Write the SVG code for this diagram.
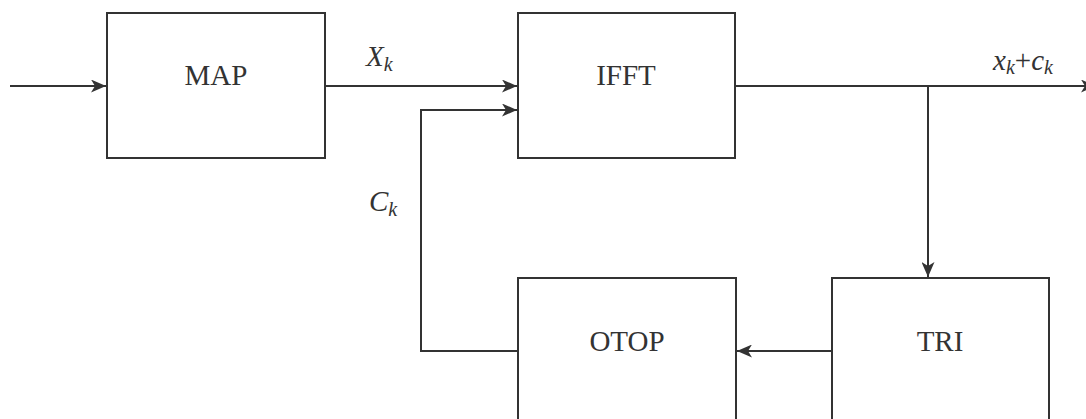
<svg xmlns="http://www.w3.org/2000/svg" width="1086" height="419" viewBox="0 0 1086 419">
<style>
.box{fill:#fff;stroke:#333;stroke-width:2}
.ln{fill:none;stroke:#333;stroke-width:2}
.t{font-family:"Liberation Serif","Times New Roman",serif;font-size:29px;fill:#333;text-anchor:middle}
.i{font-family:"Liberation Serif","Times New Roman",serif;font-style:italic;font-size:29px;fill:#333}
.s{font-size:20px}
</style>
<defs>
<marker id="ah" viewBox="0 0 15 13" refX="15" refY="6.5" markerWidth="15" markerHeight="13" markerUnits="userSpaceOnUse" orient="auto">
<path d="M0,0 L15,6.5 L0,13 L4,6.5 Z" fill="#333"/>
</marker>
</defs>
<rect width="1086" height="419" fill="#fff"/>
<g id="connectors">
<line class="ln" x1="10" y1="86" x2="106" y2="86" marker-end="url(#ah)"/>
<line class="ln" x1="325" y1="86" x2="517" y2="86" marker-end="url(#ah)"/>
<polyline class="ln" points="518,351 421,351 421,110 517,110" marker-end="url(#ah)"/>
<line class="ln" x1="735" y1="86" x2="1096" y2="86" marker-end="url(#ah)"/>
<line class="ln" x1="928" y1="86" x2="928" y2="277" marker-end="url(#ah)"/>
<line class="ln" x1="832" y1="351" x2="737" y2="351" marker-end="url(#ah)"/>
</g>
<g id="map">
<rect class="box" x="107" y="13" width="218" height="145"/>
<text class="t" x="216" y="85">MAP</text>
</g>
<g id="ifft">
<rect class="box" x="518" y="13" width="217" height="145"/>
<text class="t" x="626" y="85">IFFT</text>
</g>
<g id="otop">
<rect class="box" x="518" y="278" width="218" height="160"/>
<text class="t" x="627" y="351">OTOP</text>
</g>
<g id="tri">
<rect class="box" x="832" y="278" width="217" height="160"/>
<text class="t" x="940" y="351">TRI</text>
</g>
<g id="labels">
<text class="i" x="366" y="66">X<tspan class="s" dy="5">k</tspan></text>
<text class="i" x="369" y="211">C<tspan class="s" dy="5">k</tspan></text>
<text class="i" x="993" y="70">x<tspan class="s" dy="4">k</tspan><tspan dy="-4" font-style="normal">+</tspan>c<tspan class="s" dy="4">k</tspan></text>
</g>
</svg>
